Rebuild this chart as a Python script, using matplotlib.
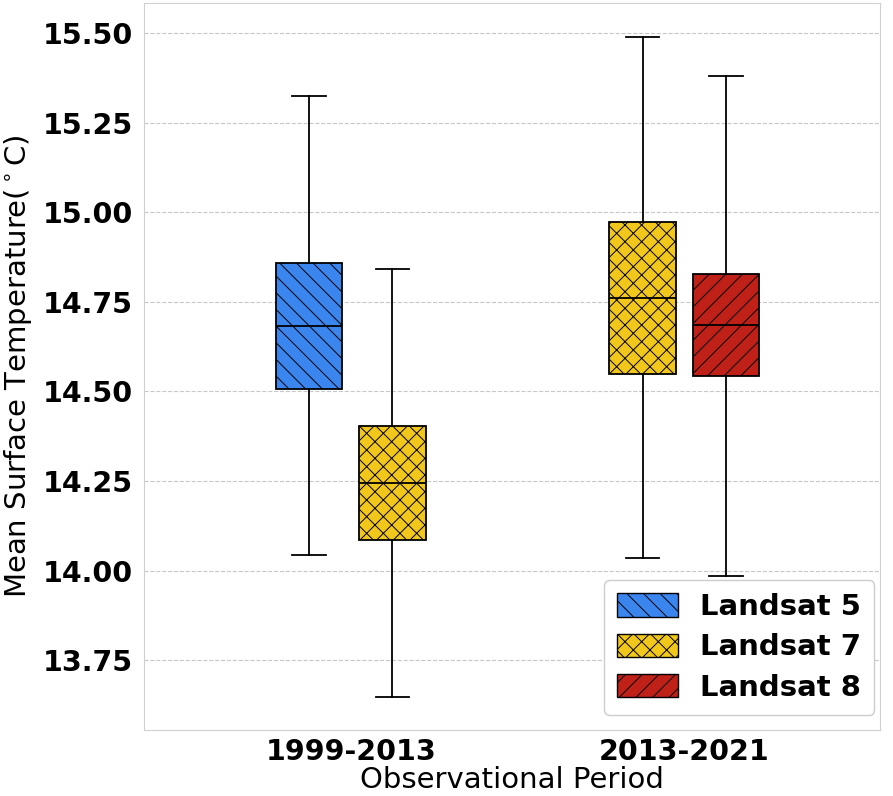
""" BOXPLOT OF MEAN SURFACE TEMPERATURE """
import matplotlib
matplotlib.use('Agg')
import matplotlib.pyplot as plt
from matplotlib.patches import Patch

periods = ['1999-2013', '2013-2021']
sensors = ['Landsat 5', 'Landsat 7', 'Landsat 7', 'Landsat 8']
group_of_box = [0, 0, 1, 1]   # which period each box belongs to

# box stats (deg C)
whis_low = [14.043, 13.647, 14.035, 13.985]
q1 = [14.506, 14.085, 14.548, 14.543]
median = [14.682, 14.244, 14.760, 14.685]
q3 = [14.858, 14.403, 14.973, 14.827]
whis_high = [15.324, 14.841, 15.489, 15.380]

colours = {'Landsat 5': '#3a86ee', 'Landsat 7': '#f2c71c', 'Landsat 8': '#bf2119'}
hatches = {'Landsat 5': '\\\\', 'Landsat 7': 'xx', 'Landsat 8': '//'}

plt.rcParams['hatch.linewidth'] = 0.7

fig = plt.figure(figsize=(8.93, 7.96), dpi=100)
ax = fig.add_axes([0.161, 0.083, 0.824, 0.913])

stats = []
for i in range(len(sensors)):
    stats.append({'med': median[i], 'q1': q1[i], 'q3': q3[i],
                  'whislo': whis_low[i], 'whishi': whis_high[i], 'fliers': []})

offsets = [-0.125, 0.125, -0.125, 0.125]
positions = [group_of_box[i] + 1 + offsets[i] for i in range(len(sensors))]

bp = ax.bxp(stats, positions=positions, widths=0.2, patch_artist=True, showfliers=False,
            boxprops=dict(linewidth=1.3, edgecolor='black'),
            medianprops=dict(color='black', linewidth=1.3),
            whiskerprops=dict(color='black', linewidth=1.3),
            capprops=dict(color='black', linewidth=1.3))

for box, s in zip(bp['boxes'], sensors):
    box.set_facecolor(colours[s])
    box.set_hatch(hatches[s])

ax.set_xlim(0.38, 2.585)
ax.set_ylim(13.555, 15.584)
ax.set_xticks([1, 2])
ax.set_xticklabels(periods)
ax.set_yticks([13.75, 14.0, 14.25, 14.5, 14.75, 15.0, 15.25, 15.5])
ax.yaxis.set_major_formatter(matplotlib.ticker.FormatStrFormatter('%.2f'))
ax.tick_params(axis='both', length=0, labelsize=20.5, pad=8)
ax.tick_params(axis='x', pad=6)
for lab in ax.get_xticklabels() + ax.get_yticklabels():
    lab.set_fontweight('bold')

ax.grid(axis='y', linestyle='--', color='#c8c8c8', linewidth=0.8)
ax.set_axisbelow(True)
for sp in ax.spines.values():
    sp.set_color('#d0d0d0')

ax.set_xlabel('Observational Period', fontsize=21, labelpad=0)
ax.set_ylabel('Mean Surface Temperature($^\\circ$C)', fontsize=21, labelpad=6)

handles = [Patch(facecolor=colours[s], edgecolor='black', hatch=hatches[s], label=s)
           for s in ['Landsat 5', 'Landsat 7', 'Landsat 8']]
ax.legend(handles=handles, loc='lower right', prop={'size': 21, 'weight': 'bold'},
          handlelength=2.1, handleheight=0.85, handletextpad=0.75, borderpad=0.45,
          labelspacing=0.42, edgecolor='#cccccc', framealpha=1.0,
          borderaxespad=0, bbox_to_anchor=(0.993, 0.021))

fig.savefig('out.png', dpi=100)
